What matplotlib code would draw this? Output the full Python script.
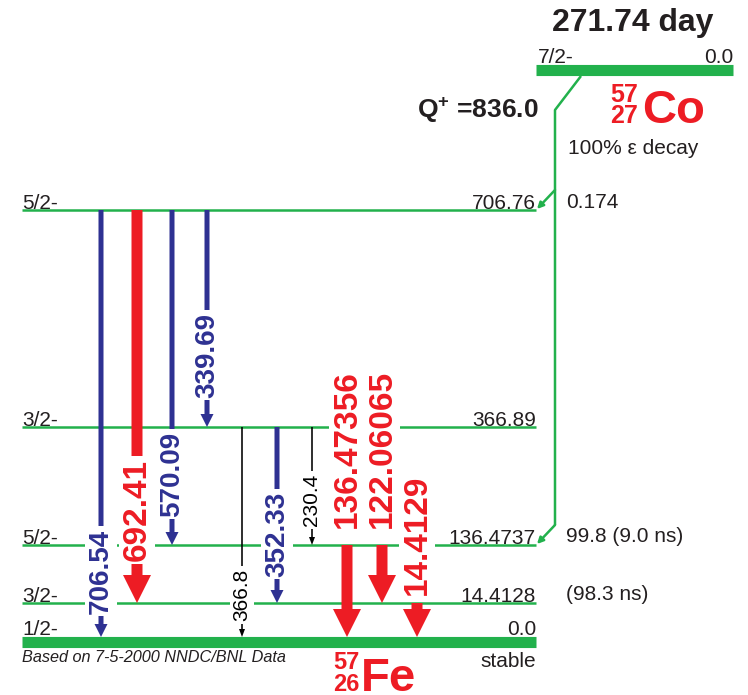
"""
Decay scheme of 57Co -> 57Fe (electron capture), drawn on a pixel canvas.
"""

import matplotlib
matplotlib.use('Agg')
import matplotlib.pyplot as plt
from matplotlib.patches import FancyArrow

C = {
    'GREEN': '#22b14c', 'RED': '#ed1c24', 'BLUE': '#2e3192',
    'BLACK': '#000000', 'TEXT': '#231f20', 'BG': '#ffffff',
}

plt.rcParams.update({
    'font.family': ['Liberation Sans', 'DejaVu Sans'],
    'mathtext.fontset': 'custom',
    'mathtext.rm': 'Liberation Sans',
    'mathtext.bf': 'Liberation Sans:bold',
    'text.color': C['TEXT'],
})

# ---------------- data ----------------
LEVEL_ENERGY = ['706.76', '366.89', '136.4737', '14.4128', '0.0']
LEVEL_SPIN = ['5/2-', '3/2-', '5/2-', '3/2-', '1/2-']
LEVEL_NOTE = ['0.174', '', '99.8 (9.0 ns)', '(98.3 ns)', '']
EC_FEED_LEVELS = [0, 2]

GAMMA_ENERGY = ['706.54', '692.41', '570.09', '339.69', '366.8',
                '352.33', '230.4', '136.47356', '122.06065', '14.4129']
GAMMA_FROM = [0, 0, 0, 0, 1, 1, 1, 2, 2, 3]
GAMMA_TO = [4, 3, 2, 1, 4, 3, 2, 4, 3, 4]
GAMMA_CLASS = ['medium', 'strong', 'medium', 'medium', 'weak',
               'medium', 'weak', 'strong', 'strong', 'strong']

PARENT_SPIN = '7/2-'
PARENT_ENERGY = '0.0'
HALF_LIFE = '271.74 day'
Q_VALUE = '836.0'
DECAY_MODE = '100% \u03b5 decay'

# ---------------- layout (pixels) ----------------
W, H = 748, 695
LEVEL_X0, LEVEL_X1 = 22, 536
LEVEL_Y = [210, 427, 545, 603, 642]
PARENT_X0, PARENT_X1, PARENT_Y = 536, 733, 70
GAMMA_X = [101, 137, 172, 207, 242, 277, 312, 347, 382, 417]
LABEL_Y = [571, 510, 474, 355, 595, 534, 500, 449, 449, 535]
PATH_X = 555

STYLE = {
    'strong': dict(color=C['RED'], width=11, hw=28, hl=28, fs=24, fw='bold'),
    'medium': dict(color=C['BLUE'], width=5, hw=13, hl=13, fs=20, fw='bold'),
    'weak': dict(color=C['BLACK'], width=1.6, hw=6, hl=8, fs=15, fw='normal'),
}

fig = plt.figure(figsize=(W / 100, H / 100), dpi=100)
ax = fig.add_axes([0, 0, 1, 1])
ax.set_xlim(0, W)
ax.set_ylim(H, 0)
ax.axis('off')

# Levels of the daughter
for i, y in enumerate(LEVEL_Y):
    ground = i == len(LEVEL_Y) - 1
    ax.plot([LEVEL_X0, LEVEL_X1], [y, y], color=C['GREEN'],
            lw=8 if ground else 1.8, solid_capstyle='butt', zorder=1)
    base = y - (7 if ground else 1)
    ax.text(LEVEL_X0, base, LEVEL_SPIN[i], fontsize=15, ha='left', va='baseline', zorder=2)
    ax.text(LEVEL_X1, base, LEVEL_ENERGY[i], fontsize=15, ha='right', va='baseline', zorder=2)
    if LEVEL_NOTE[i]:
        ax.text(566, y - 8, LEVEL_NOTE[i], fontsize=15, ha='left', va='center')

ax.text(LEVEL_X1, LEVEL_Y[-1] + 25, 'stable', fontsize=15, ha='right', va='baseline')
ax.text(LEVEL_X0, LEVEL_Y[-1] + 8, 'Based on 7-5-2000 NNDC/BNL Data',
        fontsize=11.7, style='italic', ha='left', va='top')

# Gamma transitions
for e, f, t, cls, x, ly in zip(GAMMA_ENERGY, GAMMA_FROM, GAMMA_TO,
                               GAMMA_CLASS, GAMMA_X, LABEL_Y):
    s = STYLE[cls]
    y0 = LEVEL_Y[f]
    y1 = LEVEL_Y[t] - (5 if t == len(LEVEL_Y) - 1 else 0)
    ax.add_patch(FancyArrow(x, y0, 0, y1 - y0, width=s['width'],
                            head_width=s['hw'], head_length=s['hl'],
                            length_includes_head=True, color=s['color'],
                            lw=0, zorder=3))
    ax.text(x, ly, e, rotation=90, ha='center', va='center', fontsize=s['fs'],
            fontweight=s['fw'], color=s['color'], zorder=4,
            bbox=dict(facecolor=C['BG'], edgecolor='none', pad=2))

# Parent level
ax.plot([PARENT_X0, PARENT_X1], [PARENT_Y, PARENT_Y], color=C['GREEN'],
        lw=8, solid_capstyle='butt')
ax.text(PARENT_X0 + 2, PARENT_Y - 7, PARENT_SPIN, fontsize=15, ha='left', va='baseline')
ax.text(PARENT_X1, PARENT_Y - 7, PARENT_ENERGY, fontsize=15, ha='right', va='baseline')
ax.text(633, 31, HALF_LIFE, fontsize=23, fontweight='bold', ha='center', va='baseline')
ax.text(539, 118, r'$\mathbf{Q^{+}}$ =' + Q_VALUE, fontsize=19, fontweight='bold',
        ha='right', va='baseline')
ax.text(568, 148, DECAY_MODE, fontsize=15, ha='left', va='center')

# Nuclide symbols
ax.text(610, 123, '57\n27', fontsize=18, fontweight='bold', color=C['RED'],
        va='baseline', linespacing=0.85)
ax.text(642, 123, 'Co', fontsize=34, fontweight='bold', color=C['RED'], va='baseline')
ax.text(333, 691, '57\n26', fontsize=17, fontweight='bold', color=C['RED'],
        va='baseline', linespacing=0.95)
ax.text(361, 691, 'Fe', fontsize=34, fontweight='bold', color=C['RED'], va='baseline')

# Electron-capture feeding path
last = LEVEL_Y[max(EC_FEED_LEVELS)]
ax.plot([581, PATH_X, PATH_X], [PARENT_Y + 6, 110, last - 20],
        color=C['GREEN'], lw=1.8, solid_capstyle='butt')
for lv in EC_FEED_LEVELS:
    y = LEVEL_Y[lv]
    ax.annotate('', xy=(LEVEL_X1 + 1, y - 1), xytext=(PATH_X, y - 20),
                arrowprops=dict(arrowstyle='-|>', color=C['GREEN'], lw=1.8,
                                mutation_scale=9, shrinkA=0, shrinkB=0))

fig.savefig('out.png', dpi=100, facecolor=C['BG'])
plt.close(fig)
